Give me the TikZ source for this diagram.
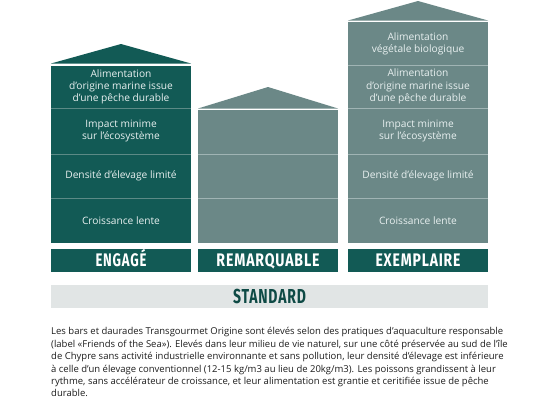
\documentclass[tikz,border=0pt]{standalone}
\usepackage{fontspec}
\setmainfont{Open Sans}
\newfontfamily\titlefont[LetterSpace=6]{Fira Sans}
\definecolor{tealdk}{RGB}{18,90,85}
\definecolor{greytl}{RGB}{107,136,135}
\definecolor{linedk}{RGB}{92,138,134}
\definecolor{linegr}{RGB}{160,180,180}
\definecolor{stdbg}{RGB}{225,229,229}
\definecolor{stdtx}{RGB}{14,74,69}
\definecolor{bodytx}{RGB}{30,30,30}
\definecolor{segtx}{RGB}{232,240,240}
\newcommand\ttlword[3]{\resizebox{#1pt}{#2pt}{\smash{#3}\vphantom{E}}}
\begin{document}
\begin{tikzpicture}[x=1pt,y=-1pt,
  seg/.style={inner sep=0pt, minimum width=140pt, align=center, text=segtx,
    font=\fontsize{10.2}{12.2}\selectfont},
  lbl/.style={fill=tealdk, inner sep=0pt, minimum width=140pt, minimum height=23pt, text=white,
    font=\titlefont\bfseries},
  divdk/.style={draw=linedk, line width=1.1pt},
  divgr/.style={draw=linegr, line width=1.1pt},
  body/.style={inner sep=0pt, anchor=north west, align=left, text=bodytx,
    font=\fontsize{9.5}{12.4}\selectfont}]
\useasboundingbox (0,0) rectangle (540,400);
\fill[white] (0,0) rectangle (540,400);

% ---- column 1 : ENGAGE
\coordinate (r1l) at (51,63.5);
\coordinate (r1a) at (121,44);
\coordinate (r1r) at (191,63.5);
\fill[tealdk] (r1l) -- (r1a) -- (r1r) -- cycle;
\node[seg, fill=tealdk, minimum height=42pt] (c1a) at (121,87) {Alimentation\\d’origine marine issue\\d’une pêche durable};
\node[seg, fill=tealdk, minimum height=46pt] (c1b) at (121,131) {Impact minime\\sur l’écosystème};
\node[seg, fill=tealdk, minimum height=44pt] (c1c) at (121,176) {Densité d’élevage limité};
\node[seg, fill=tealdk, minimum height=45pt] (c1d) at (121,220.5) {Croissance lente};
\draw[divdk] (c1a.south west) -- (c1a.south east);
\draw[divdk] (c1b.south west) -- (c1b.south east);
\draw[divdk] (c1c.south west) -- (c1c.south east);

% ---- column 2 : REMARQUABLE
\coordinate (r2l) at (198,108.5);
\coordinate (r2a) at (268,87);
\coordinate (r2r) at (338,108.5);
\fill[greytl] (r2l) -- (r2a) -- (r2r) -- cycle;
\node[seg, fill=greytl, minimum height=44pt] (c2b) at (268,132) {};
\node[seg, fill=greytl, minimum height=44pt] (c2c) at (268,176) {};
\node[seg, fill=greytl, minimum height=45pt] (c2d) at (268,220.5) {};
\draw[divgr] (c2b.south west) -- (c2b.south east);
\draw[divgr] (c2c.south west) -- (c2c.south east);

% ---- column 3 : EXEMPLAIRE
\coordinate (r3l) at (348,20.5);
\coordinate (r3a) at (418,1);
\coordinate (r3r) at (488,20.5);
\fill[greytl] (r3l) -- (r3a) -- (r3r) -- cycle;
\node[seg, fill=greytl, minimum height=43pt] (c3e) at (418,43.5) {Alimentation\\végétale biologique};
\node[seg, fill=greytl, minimum height=43pt] (c3a) at (418,86.5) {Alimentation\\d’origine marine issue\\d’une pêche durable};
\node[seg, fill=greytl, minimum height=46pt] (c3b) at (418,131) {Impact minime\\sur l’écosystème};
\node[seg, fill=greytl, minimum height=44pt] (c3c) at (418,176) {Densité d’élevage limité};
\node[seg, fill=greytl, minimum height=45pt] (c3d) at (418,220.5) {Croissance lente};
\draw[divgr] (c3e.south west) -- (c3e.south east);
\draw[divgr] (c3a.south west) -- (c3a.south east);
\draw[divgr] (c3b.south west) -- (c3b.south east);
\draw[divgr] (c3c.south west) -- (c3c.south east);

% ---- labels
\node[lbl] (l1) at (121,260.5) {\ttlword{51}{12.6}{ENGAGÉ}};
\node[lbl] (l2) at (268,260.5) {\ttlword{103}{12.6}{REMARQUABLE}};
\node[lbl] (l3) at (418,260.5) {\ttlword{85}{12.6}{EXEMPLAIRE}};

% ---- standard bar
\node[fill=stdbg, inner sep=0pt, minimum width=437pt, minimum height=23pt, text=stdtx,
  font=\titlefont\bfseries] (std) at (269.5,296.5) {\ttlword{73}{14}{STANDARD}};

% ---- body text
\node[body] (txt) at (51,327.5) {Les bars et daurades Transgourmet Origine sont élevés selon des pratiques d’aquaculture responsable\\
(label «Friends of the Sea»). Elevés dans leur milieu de vie naturel, sur une côté préservée au sud de l’île\\
de Chypre sans activité industrielle environnante et sans pollution, leur densité d’élevage est inférieure\\
à celle d’un élevage conventionnel (12-15 kg/m3 au lieu de 20kg/m3). Les poissons grandissent à leur\\
rythme, sans accélérateur de croissance, et leur alimentation est grantie et ceritifiée issue de pêche\\
durable.};
\end{tikzpicture}
\end{document}
